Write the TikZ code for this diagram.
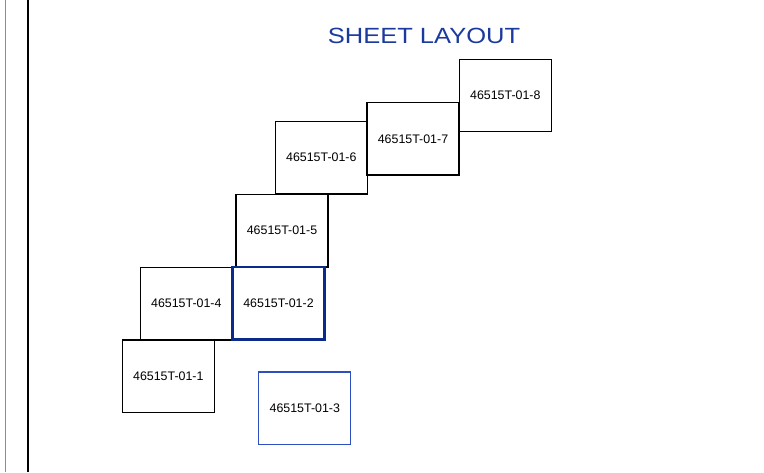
\documentclass[tikz,border=0pt]{standalone}
\usepackage{fontspec}
\setmainfont{Liberation Sans}
\newfontfamily\titlefont[FakeStretch=1.16]{Liberation Sans}
\definecolor{navy}{HTML}{0A2A8C}
\definecolor{lblue}{HTML}{2D4FBF}
\definecolor{ttl}{HTML}{1B3A9E}

\begin{document}
\begin{tikzpicture}[
  x=1pt, y=-1pt,
  sheet/.style={draw=black, line width=1.2pt, minimum width=92pt, minimum height=72.5pt,
    inner sep=0pt, font=\fontsize{12.4}{14}\selectfont},
  cur/.style={sheet, draw=navy, line width=2.6pt},
  alt/.style={sheet, draw=lblue, line width=1.1pt},
  title/.style={font=\titlefont\fontsize{22}{26}\selectfont, text=ttl}
]
\useasboundingbox (0,0) rectangle (764,472);

% frame
\draw[black!45, line width=1pt] (5,0) -- (5,472);
\draw[line width=1.3pt] (28,0) -- (28,472);

\node[title, anchor=base] (head) at (424,43.3) {SHEET LAYOUT};

% sheets
\node[sheet] (s1) at (168.3,376.3) {46515T-01-1};
\node[sheet] (s4) at (186.3,303.7) {46515T-01-4};
\node[sheet] (s5) at (282,230.7) {46515T-01-5};
\node[sheet] (s6) at (321.3,157.7) {46515T-01-6};
\node[sheet] (s7) at (413,138.8) {46515T-01-7};
\node[sheet] (s8) at (505.3,95.5) {46515T-01-8};
\node[cur] (s2) at (278.5,303.3) {46515T-01-2};
\node[alt] (s3) at (304.8,408.2) {46515T-01-3};
\end{tikzpicture}
\end{document}
